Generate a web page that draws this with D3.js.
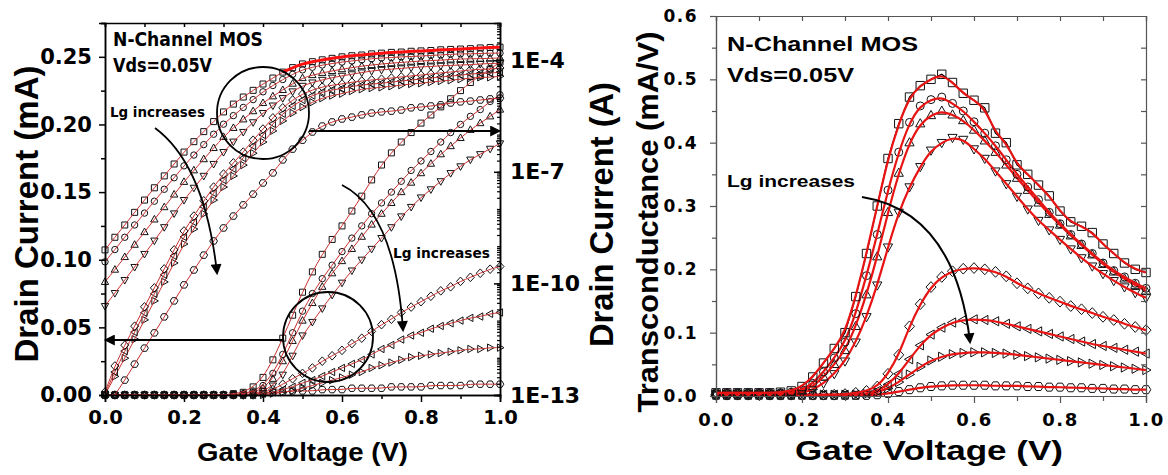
<!DOCTYPE html>
<html><head><meta charset="utf-8">
<script src="https://cdn.jsdelivr.net/npm/d3@7"></script>
<style>body{margin:0;background:#fff}svg{display:block}</style>
</head><body>
<script>
// ---------- DATA ----------
const gateV = [0,0.025,0.05,0.075,0.1,0.125,0.15,0.175,0.2,0.225,0.25,0.275,0.3,0.325,0.35,0.375,0.4,0.425,0.45,0.475,0.5,0.525,0.55,0.575,0.6,0.625,0.65,0.675,0.7,0.725,0.75,0.775,0.8,0.825,0.85,0.875,0.9,0.925,0.95,0.975,1];

// Drain current, log10(A), plotted on right (log) axis of left panel
const logIdSquare  = [-9.10,-8.76,-8.43,-8.09,-7.76,-7.43,-7.11,-6.79,-6.47,-6.19,-5.92,-5.65,-5.39,-5.18,-4.99,-4.81,-4.64,-4.48,-4.32,-4.20,-4.10,-4.04,-3.99,-3.95,-3.91,-3.88,-3.86,-3.83,-3.81,-3.79,-3.78,-3.76,-3.75,-3.74,-3.72,-3.71,-3.70,-3.69,-3.67,-3.66,-3.65];
const logIdCircle  = [-9.42,-9.09,-8.76,-8.43,-8.11,-7.79,-7.47,-7.16,-6.84,-6.55,-6.27,-5.99,-5.72,-5.49,-5.27,-5.06,-4.85,-4.68,-4.52,-4.38,-4.26,-4.19,-4.13,-4.09,-4.05,-4.02,-3.99,-3.96,-3.94,-3.93,-3.91,-3.90,-3.89,-3.87,-3.86,-3.84,-3.83,-3.83,-3.82,-3.81,-3.81];
const logIdUp      = [-9.96,-9.63,-9.29,-8.96,-8.62,-8.28,-7.95,-7.61,-7.27,-6.96,-6.66,-6.36,-6.06,-5.82,-5.59,-5.37,-5.15,-4.97,-4.80,-4.63,-4.48,-4.40,-4.34,-4.29,-4.24,-4.20,-4.16,-4.13,-4.10,-4.08,-4.06,-4.04,-4.02,-4.01,-4.00,-3.98,-3.97,-3.96,-3.96,-3.95,-3.94];
const logIdDown    = [-10.61,-10.26,-9.91,-9.56,-9.21,-8.85,-8.49,-8.12,-7.76,-7.43,-7.11,-6.79,-6.47,-6.19,-5.93,-5.67,-5.42,-5.22,-5.02,-4.84,-4.69,-4.60,-4.53,-4.47,-4.42,-4.38,-4.33,-4.29,-4.26,-4.24,-4.22,-4.20,-4.18,-4.17,-4.15,-4.14,-4.13,-4.12,-4.10,-4.09,-4.08];
const logIdDiamond = [-12.92,-12.22,-11.66,-11.15,-10.63,-10.12,-9.61,-9.10,-8.59,-8.19,-7.78,-7.41,-7.06,-6.76,-6.47,-6.15,-5.85,-5.55,-5.28,-5.07,-4.91,-4.80,-4.72,-4.67,-4.64,-4.59,-4.56,-4.53,-4.51,-4.48,-4.45,-4.42,-4.40,-4.37,-4.34,-4.32,-4.29,-4.26,-4.24,-4.24,-4.21];
const logIdLeft    = [-12.96,-12.38,-11.82,-11.31,-10.79,-10.28,-9.77,-9.26,-8.75,-8.35,-7.94,-7.57,-7.22,-6.92,-6.63,-6.31,-6.01,-5.71,-5.44,-5.23,-5.07,-4.95,-4.86,-4.80,-4.76,-4.70,-4.67,-4.64,-4.62,-4.59,-4.56,-4.53,-4.51,-4.48,-4.45,-4.43,-4.40,-4.37,-4.35,-4.35,-4.32];
const logIdRight   = [-12.99,-12.50,-12.01,-11.50,-10.98,-10.47,-9.96,-9.45,-8.94,-8.54,-8.13,-7.76,-7.41,-7.11,-6.82,-6.50,-6.20,-5.90,-5.63,-5.42,-5.26,-5.13,-5.02,-4.95,-4.90,-4.83,-4.78,-4.75,-4.73,-4.70,-4.67,-4.64,-4.62,-4.59,-4.56,-4.54,-4.51,-4.48,-4.46,-4.46,-4.43];
const logIdHex     = [null,-13.00,-12.60,-12.17,-11.74,-11.33,-10.90,-10.47,-10.04,-9.64,-9.24,-8.86,-8.51,-8.19,-7.89,-7.60,-7.30,-7.03,-6.68,-6.39,-6.15,-5.93,-5.77,-5.66,-5.58,-5.53,-5.47,-5.42,-5.39,-5.37,-5.34,-5.28,-5.26,-5.23,-5.20,-5.15,-5.12,-5.10,-5.07,-5.04,-5.02];

// Drain current, mA, plotted on left (linear) axis of left panel
const linIdSquare  = [0,0,0,0,0,0,0,0,0,0,0,0,0,0.001,0.002,0.006,0.013,0.026,0.042,0.059,0.076,0.091,0.104,0.115,0.125,0.136,0.147,0.159,0.170,0.179,0.187,0.194,0.201,0.207,0.213,0.219,0.225,0.231,0.236,0.241,0.246];
const linIdCircle  = [0,0,0,0,0,0,0,0,0,0,0,0,0,0,0.001,0.003,0.007,0.016,0.030,0.046,0.062,0.075,0.086,0.096,0.106,0.116,0.125,0.134,0.142,0.150,0.158,0.166,0.173,0.180,0.187,0.194,0.200,0.206,0.211,0.217,0.222];
const linIdUp      = [0,0,0,0,0,0,0,0,0,0,0,0,0,0,0.001,0.002,0.005,0.012,0.025,0.040,0.055,0.068,0.080,0.090,0.099,0.108,0.117,0.126,0.134,0.142,0.150,0.157,0.164,0.171,0.178,0.184,0.190,0.196,0.201,0.206,0.211];
const linIdDown    = [0,0,0,0,0,0,0,0,0,0,0,0,0,0,0,0.001,0.003,0.007,0.015,0.029,0.044,0.054,0.064,0.074,0.083,0.092,0.100,0.108,0.116,0.124,0.132,0.139,0.146,0.152,0.158,0.164,0.169,0.174,0.178,0.182,0.186];
const linIdDiamond = [0,0,0,0,0,0,0,0,0,0,0,0,0,0,0,0,0.002,0.004,0.008,0.012,0.016,0.020,0.025,0.029,0.033,0.038,0.042,0.047,0.052,0.056,0.061,0.065,0.069,0.073,0.077,0.080,0.084,0.087,0.090,0.093,0.095];
const linIdLeft    = [0,0,0,0,0,0,0,0,0,0,0,0,0,0,0,0,0.001,0.002,0.004,0.006,0.009,0.011,0.014,0.017,0.020,0.023,0.026,0.030,0.034,0.037,0.041,0.044,0.046,0.049,0.051,0.053,0.055,0.057,0.058,0.060,0.061];
const linIdRight   = [0,0,0,0,0,0,0,0,0,0,0,0,0,0,0,0,0,0.001,0.002,0.003,0.005,0.007,0.009,0.011,0.013,0.015,0.017,0.020,0.022,0.024,0.026,0.028,0.029,0.030,0.031,0.032,0.033,0.034,0.034,0.035,0.035];
const linIdHex     = [0,0,0,0,0,0,0,0,0,0,0,0,0,0,0,0,0.001,0.002,0.002,0.003,0.003,0.003,0.004,0.004,0.004,0.005,0.005,0.005,0.005,0.006,0.006,0.006,0.006,0.007,0.007,0.007,0.007,0.008,0.008,0.008,0.008];

// Transconductance, mA/V (right panel)
const gmSquare  = [0.005,0.005,0.005,0.005,0.005,0.005,0.006,0.008,0.015,0.030,0.052,0.075,0.100,0.157,0.225,0.300,0.375,0.430,0.472,0.490,0.500,0.508,0.495,0.478,0.467,0.455,0.415,0.400,0.365,0.350,0.333,0.316,0.292,0.275,0.268,0.258,0.240,0.225,0.210,0.200,0.195];
const gmCircle  = [0.005,0.005,0.005,0.005,0.005,0.005,0.005,0.006,0.010,0.020,0.038,0.060,0.085,0.130,0.190,0.255,0.325,0.385,0.432,0.458,0.468,0.472,0.462,0.450,0.433,0.415,0.395,0.373,0.350,0.330,0.310,0.290,0.272,0.255,0.240,0.225,0.210,0.198,0.188,0.178,0.170];
const gmUp      = [0.004,0.004,0.004,0.004,0.004,0.004,0.004,0.005,0.008,0.015,0.030,0.050,0.072,0.110,0.160,0.220,0.290,0.352,0.400,0.430,0.443,0.450,0.444,0.435,0.420,0.403,0.385,0.365,0.344,0.325,0.305,0.287,0.270,0.253,0.238,0.223,0.208,0.196,0.185,0.175,0.166];
const gmDown    = [0.003,0.003,0.003,0.003,0.003,0.003,0.003,0.003,0.005,0.010,0.020,0.035,0.055,0.085,0.125,0.175,0.235,0.290,0.330,0.362,0.388,0.400,0.408,0.405,0.390,0.375,0.355,0.335,0.315,0.295,0.277,0.262,0.247,0.232,0.218,0.205,0.193,0.182,0.172,0.163,0.155];
const gmDiamond = [0.002,0.002,0.002,0.002,0.002,0.002,0.002,0.002,0.002,0.002,0.002,0.002,0.003,0.005,0.008,0.015,0.035,0.065,0.110,0.145,0.172,0.188,0.197,0.201,0.202,0.200,0.196,0.189,0.178,0.170,0.162,0.155,0.149,0.142,0.137,0.131,0.125,0.120,0.114,0.109,0.104];
const gmLeft    = [0.002,0.002,0.002,0.002,0.002,0.002,0.002,0.002,0.002,0.002,0.002,0.002,0.002,0.002,0.004,0.008,0.018,0.035,0.058,0.080,0.097,0.108,0.116,0.120,0.121,0.120,0.118,0.114,0.110,0.106,0.102,0.098,0.094,0.090,0.086,0.082,0.079,0.076,0.073,0.070,0.067];
const gmRight   = [0.002,0.002,0.002,0.002,0.002,0.002,0.002,0.002,0.002,0.002,0.002,0.002,0.002,0.002,0.003,0.006,0.012,0.022,0.034,0.046,0.056,0.062,0.066,0.068,0.069,0.069,0.068,0.067,0.065,0.063,0.061,0.059,0.057,0.055,0.053,0.051,0.049,0.047,0.045,0.043,0.041];
const gmHex     = [0.001,0.001,0.001,0.001,0.001,0.001,0.001,0.001,0.001,0.001,0.001,0.001,0.001,0.001,0.001,0.002,0.004,0.007,0.010,0.013,0.015,0.016,0.017,0.017,0.017,0.017,0.016,0.016,0.016,0.015,0.015,0.014,0.014,0.013,0.013,0.012,0.012,0.011,0.011,0.010,0.010];

// Tick labels
const xTickValues = [0,0.2,0.4,0.6,0.8,1.0];
const xTickLabels = ["0.0","0.2","0.4","0.6","0.8","1.0"];
const linTickValues = [0,0.05,0.10,0.15,0.20,0.25];
const linTickLabels = ["0.00","0.05","0.10","0.15","0.20","0.25"];
const logTickValues = [1e-13,1e-10,1e-7,1e-4];
const logTickLabels = ["1E-13","1E-10","1E-7","1E-4"];
const gmTickValues = [0,0.1,0.2,0.3,0.4,0.5,0.6];
const gmTickLabels = ["0.0","0.1","0.2","0.3","0.4","0.5","0.6"];

// ---------- DRAW ----------
const svg = d3.select('body').append('svg').attr('width',1168).attr('height',475);
svg.append('rect').attr('width',1168).attr('height',475).attr('fill','#fff');

const defs = svg.append('defs');
defs.append('marker').attr('id','ah').attr('viewBox','0 0 10 10').attr('refX',8).attr('refY',5)
  .attr('markerUnits','userSpaceOnUse').attr('markerWidth',13).attr('markerHeight',11).attr('orient','auto')
  .append('path').attr('d','M0,0L10,5L0,10Z').attr('fill','#000');

const xL = d3.scaleLinear([0,1],[105,500]);
const yLin = d3.scaleLinear([0,0.275],[395,23]);
const yLog = d3.scaleLog([1e-13,1e-3],[395,23]);
const xR = d3.scaleLinear([0,1],[716,1146]);
const yGm = d3.scaleLinear([0,0.6],[396,16]);

function shapePath(type,r){
  switch(type){
    case 'square': return `M${-r},${-r}H${r}V${r}H${-r}Z`;
    case 'circle': return `M${r},0A${r},${r} 0 1,1 ${-r},0A${r},${r} 0 1,1 ${r},0Z`;
    case 'up': return `M0,${-1.25*r}L${1.15*r},${0.8*r}L${-1.15*r},${0.8*r}Z`;
    case 'down': return `M0,${1.25*r}L${1.15*r},${-0.8*r}L${-1.15*r},${-0.8*r}Z`;
    case 'left': return `M${-1.25*r},0L${0.8*r},${-1.15*r}L${0.8*r},${1.15*r}Z`;
    case 'right': return `M${1.25*r},0L${-0.8*r},${-1.15*r}L${-0.8*r},${1.15*r}Z`;
    case 'diamond': return `M0,${-1.35*r}L${1.25*r},0L0,${1.35*r}L${-1.25*r},0Z`;
    case 'hex': return `M${1.2*r},0L${0.6*r},${-r}L${-0.6*r},${-r}L${-1.2*r},0L${-0.6*r},${r}L${0.6*r},${r}Z`;
  }
}

function plotSeries(g, xs, ys, vals, conv, shape, r, fitColor, fitW, opts){
  opts = opts || {};
  const raw = gateV.map((v,i)=>[v, vals[i]]).filter(d=>d[1]!==null);
  const pts = raw.map(d=>[xs(d[0]), ys(conv(d[1]))]);
  if(opts.dataLine){
    g.append('path').attr('d', d3.line()(pts)).attr('fill','none').attr('stroke','#000').attr('stroke-width',1.3);
  }
  g.append('g').selectAll('path').data(pts).join('path')
    .attr('d', shapePath(shape,r)).attr('transform', d=>`translate(${d[0]},${d[1]})`)
    .attr('fill','none').attr('stroke','#111').attr('stroke-width',1);
  g.append('path').attr('d', d3.line().curve(d3.curveBasis)(pts))
    .attr('fill','none').attr('stroke',fitColor).attr('stroke-width',fitW);
  if(opts.thickFrom !== undefined){
    const sub = raw.filter(d=>d[0]>=opts.thickFrom).map(d=>[xs(d[0]), ys(conv(d[1]))]);
    g.append('path').attr('d', d3.line().curve(d3.curveBasis)(sub))
      .attr('fill','none').attr('stroke',opts.thickColor).attr('stroke-width',opts.thickW);
  }
}

const lin = v=>v, pow10 = v=>Math.pow(10,v);

// ----- Left panel -----
const gL = svg.append('g');
const thinRed = '#c83030';
plotSeries(gL, xL, yLin, linIdHex, lin, 'hex', 3.2, thinRed, 1);
plotSeries(gL, xL, yLin, linIdRight, lin, 'right', 3.2, thinRed, 1);
plotSeries(gL, xL, yLin, linIdLeft, lin, 'left', 3.2, thinRed, 1);
plotSeries(gL, xL, yLin, linIdDiamond, lin, 'diamond', 3.2, thinRed, 1);
plotSeries(gL, xL, yLin, linIdDown, lin, 'down', 3.2, thinRed, 1);
plotSeries(gL, xL, yLin, linIdUp, lin, 'up', 3.2, thinRed, 1);
plotSeries(gL, xL, yLin, linIdCircle, lin, 'circle', 3.2, thinRed, 1);
plotSeries(gL, xL, yLin, linIdSquare, lin, 'square', 3.0, thinRed, 1);
plotSeries(gL, xL, yLog, logIdHex, pow10, 'hex', 3.2, thinRed, 1);
plotSeries(gL, xL, yLog, logIdRight, pow10, 'right', 3.2, thinRed, 1);
plotSeries(gL, xL, yLog, logIdLeft, pow10, 'left', 3.2, thinRed, 1);
plotSeries(gL, xL, yLog, logIdDiamond, pow10, 'diamond', 3.2, thinRed, 1);
plotSeries(gL, xL, yLog, logIdDown, pow10, 'down', 3.2, thinRed, 1);
plotSeries(gL, xL, yLog, logIdUp, pow10, 'up', 3.2, thinRed, 1);
plotSeries(gL, xL, yLog, logIdCircle, pow10, 'circle', 3.2, thinRed, 1);
plotSeries(gL, xL, yLog, logIdSquare, pow10, 'square', 3.0, thinRed, 1, {thickFrom:0.45, thickColor:'#ff1010', thickW:3});

function styleAxis(sel, color, w){
  sel.select('.domain').attr('stroke',color).attr('stroke-width',w);
  sel.selectAll('.tick line').attr('stroke',color).attr('stroke-width',w);
  sel.attr('font-family',null).attr('font-size',null);
}
const tickFont = "'DejaVu Sans',sans-serif";

// left panel axes
let a;
a = gL.append('g').attr('transform','translate(0,395)')
  .call(d3.axisBottom(xL).tickValues([0.1,0.3,0.5,0.7,0.9]).tickSize(4).tickFormat(''));
styleAxis(a,'#000',1.5);
a = gL.append('g').attr('transform','translate(0,395)')
  .call(d3.axisBottom(xL).tickValues(xTickValues).tickSize(7).tickPadding(8).tickFormat((d,i)=>xTickLabels[i]));
styleAxis(a,'#000',1.5);
a.selectAll('text').attr('font-family',tickFont).attr('font-weight','bold').attr('font-size',19.5).attr('fill','#000');
a = gL.append('g').attr('transform','translate(0,23)')
  .call(d3.axisTop(xL).tickValues([0,0.1,0.2,0.3,0.4,0.5,0.6,0.7,0.8,0.9,1]).tickSize(-4).tickFormat(''));
styleAxis(a,'#000',1.5);
a = gL.append('g').attr('transform','translate(105,0)')
  .call(d3.axisLeft(yLin).tickValues([0.025,0.075,0.125,0.175,0.225,0.275]).tickSize(4).tickFormat(''));
styleAxis(a,'#000',1.5);
a = gL.append('g').attr('transform','translate(105,0)')
  .call(d3.axisLeft(yLin).tickValues(linTickValues).tickSize(6).tickPadding(7).tickFormat((d,i)=>linTickLabels[i]));
styleAxis(a,'#000',1.5);
a.selectAll('text').attr('font-family',tickFont).attr('font-weight','bold').attr('font-size',21).attr('fill','#000');
// log minor ticks
const logMinor = [];
for(let e=-13;e<-3;e++){ for(let m=1;m<10;m++){ logMinor.push(m*Math.pow(10,e)); } }
a = gL.append('g').attr('transform','translate(500,0)')
  .call(d3.axisRight(yLog).tickValues(logMinor).tickSize(-3).tickFormat(''));
styleAxis(a,'#000',1.2);
a.select('.domain').attr('stroke-width',1.5);
a = gL.append('g').attr('transform','translate(500,0)')
  .call(d3.axisRight(yLog).tickValues(logTickValues).tickSize(-6).tickPadding(10).tickFormat((d,i)=>logTickLabels[i]));
styleAxis(a,'#000',1.5);
a.selectAll('text').attr('font-family',tickFont).attr('font-weight','bold').attr('font-size',22).attr('fill','#000');

// left annotations
const narrow = "'Liberation Sans Narrow','DejaVu Sans Condensed','Liberation Sans',sans-serif";
function txt(x,y,s,size,len,family,anchor){
  const t = svg.append('text').attr('x',x).attr('y',y).text(s).attr('font-family',family)
    .attr('font-weight','bold').attr('font-size',size).attr('fill','#000');
  if(len) t.attr('textLength',len).attr('lengthAdjust','spacingAndGlyphs');
  if(anchor) t.attr('text-anchor',anchor);
  return t;
}
txt(113,46,'N-Channel MOS',19,150,narrow);
txt(113,72,'Vds=0.05V',19,99,narrow);
txt(110,117,'Lg increases',14,95,narrow);
txt(393,258,'Lg increases',14,97,narrow);

svg.append('circle').attr('cx',263).attr('cy',113).attr('r',46).attr('fill','none').attr('stroke','#000').attr('stroke-width',1.8);
svg.append('circle').attr('cx',328).attr('cy',337).attr('r',45).attr('fill','none').attr('stroke','#000').attr('stroke-width',1.8);
svg.append('path').attr('d','M309,131L499,131').attr('stroke','#000').attr('stroke-width',2.2).attr('marker-end','url(#ah)');
svg.append('path').attr('d','M284,340L106,340').attr('stroke','#000').attr('stroke-width',2.2).attr('marker-end','url(#ah)');
svg.append('path').attr('d','M155,128Q205,165 217,273').attr('fill','none').attr('stroke','#000').attr('stroke-width',1.8).attr('marker-end','url(#ah)');
svg.append('path').attr('d','M342,185Q395,212 403,330').attr('fill','none').attr('stroke','#000').attr('stroke-width',1.8).attr('marker-end','url(#ah)');

// titles
const sans = "'Liberation Sans',Arial,sans-serif";
txt(302.5,461,'Gate Voltage (V)',26,211,sans,'middle');
svg.append('text').attr('transform','translate(38,214) rotate(-90)').attr('text-anchor','middle')
  .attr('font-family',sans).attr('font-weight','bold').attr('font-size',33).text('Drain Current (mA)');
svg.append('text').attr('transform','translate(613,214.5) rotate(-90)').attr('text-anchor','middle')
  .attr('font-family',sans).attr('font-weight','bold').attr('font-size',33)
  .attr('textLength',265).attr('lengthAdjust','spacingAndGlyphs').text('Drain Current (A)');

// ----- Right panel -----
const gR = svg.append('g');
const red = '#e81414';
plotSeries(gR, xR, yGm, gmHex, lin, 'hex', 4, red, 2.2);
plotSeries(gR, xR, yGm, gmRight, lin, 'right', 4, red, 2.2);
plotSeries(gR, xR, yGm, gmLeft, lin, 'left', 4, red, 2.2);
plotSeries(gR, xR, yGm, gmDiamond, lin, 'diamond', 4, red, 2.2);
plotSeries(gR, xR, yGm, gmDown, lin, 'down', 4, red, 2.2);
plotSeries(gR, xR, yGm, gmUp, lin, 'up', 4, red, 2.2);
plotSeries(gR, xR, yGm, gmCircle, lin, 'circle', 4, red, 2.2);
plotSeries(gR, xR, yGm, gmSquare, lin, 'square', 4.2, red, 2.2, {dataLine:true});

const axC = '#555';
a = gR.append('g').attr('transform','translate(0,396)')
  .call(d3.axisBottom(xR).tickValues([0.1,0.3,0.5,0.7,0.9]).tickSize(5).tickFormat(''));
styleAxis(a,axC,1.2);
a = gR.append('g').attr('transform','translate(0,396)')
  .call(d3.axisBottom(xR).tickValues(xTickValues).tickSize(7).tickPadding(10).tickFormat((d,i)=>xTickLabels[i]));
styleAxis(a,axC,1.2);
a.selectAll('text').attr('font-family',tickFont).attr('font-weight','bold').attr('font-size',18).attr('letter-spacing',1.5).attr('fill','#000');
a = gR.append('g').attr('transform','translate(0,16)')
  .call(d3.axisTop(xR).tickValues([0,0.1,0.2,0.3,0.4,0.5,0.6,0.7,0.8,0.9,1]).tickSize(-5).tickFormat(''));
styleAxis(a,axC,1.2);
a = gR.append('g').attr('transform','translate(716,0)')
  .call(d3.axisLeft(yGm).tickValues([0.05,0.15,0.25,0.35,0.45,0.55]).tickSize(4).tickFormat(''));
styleAxis(a,axC,1.2);
a = gR.append('g').attr('transform','translate(716,0)')
  .call(d3.axisLeft(yGm).tickValues(gmTickValues).tickSize(6).tickPadding(12).tickFormat((d,i)=>gmTickLabels[i]));
styleAxis(a,axC,1.2);
a.selectAll('text').attr('font-family',tickFont).attr('font-weight','bold').attr('font-size',17).attr('letter-spacing',1.5).attr('fill','#000');
a = gR.append('g').attr('transform','translate(1146,0)')
  .call(d3.axisRight(yGm).tickValues([0.05,0.1,0.15,0.2,0.25,0.3,0.35,0.4,0.45,0.5,0.55]).tickSize(-5).tickFormat(''));
styleAxis(a,axC,1.2);

txt(727,51,'N-Channel MOS',20,191,sans);
txt(727,82,'Vds=0.05V',20,127,sans);
txt(727,187,'Lg increases',16,128,sans);
svg.append('path').attr('d','M862,197Q955,212 970,342').attr('fill','none').attr('stroke','#000').attr('stroke-width',2).attr('marker-end','url(#ah)');

txt(929,460,'Gate Voltage (V)',27,268,sans,'middle');
svg.append('text').attr('transform','translate(658,222) rotate(-90)').attr('text-anchor','middle')
  .attr('font-family',sans).attr('font-weight','bold').attr('font-size',29)
  .attr('textLength',381).attr('lengthAdjust','spacingAndGlyphs').text('Transconductance (mA/V)');
</script>
</body></html>
